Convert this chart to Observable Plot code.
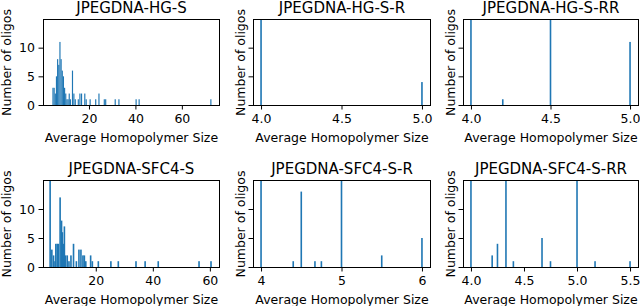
<!DOCTYPE html>
<html><head><meta charset="utf-8">
<script src="https://cdn.jsdelivr.net/npm/d3@7"></script>
<script src="https://cdn.jsdelivr.net/npm/@observablehq/plot@0.6"></script>
<style>
html,body{margin:0;padding:0;background:#fff;}
#fig{position:relative;width:640px;height:306px;overflow:hidden;background:#fff;}
#fig svg{position:absolute;overflow:visible;}
</style></head><body><div id="fig"></div>
<script>
// ---- texts ----
const titles = ["JPEGDNA-HG-S", "JPEGDNA-HG-S-R", "JPEGDNA-HG-S-RR",
                "JPEGDNA-SFC4-S", "JPEGDNA-SFC4-S-R", "JPEGDNA-SFC4-S-RR"];
const xLabel = "Average Homopolymer Size";
const yLabel = "Number of oligos";

// ---- data (histogram bars: average homopolymer size -> number of oligos) ----
const hgS_size  = [4.5,5.0,5.5,6.0,6.5,7.0,7.5,8.0,8.5,9.0,9.5,10.0,10.5,11.0,11.5,12.0,12.9,13.5,14.1,15.4,16.1,16.8,18.2,18.8,20.5,22.9,24.3,26.6,27.2,31.3,32.9,40.3,41.6,72.5];
const hgS_count = [3,3,2,5,8,7,11,8,6,5,3,2,1,1,2,1,6,2,1,1,2,2,2,1,1,1,2,1,1,1,1,1,1,1];

const hgSR_size  = [4.0, 5.0];
const hgSR_count = [40, 4];

const hgSRR_size  = [4.0, 4.2, 4.5, 5.0];
const hgSRR_count = [40, 1, 40, 11];

const sfcS_size  = [4.0,4.6,5.2,5.7,6.0,6.5,6.9,7.5,8.0,8.3,8.7,9.0,9.4,10.0,10.6,11.3,12.2,13.2,14.1,14.8,15.5,16.0,16.5,18.2,18.8,20.9,25.3,27.9,34.1,37.3,41.9,56.2,60.4];
const sfcS_count = [15,3,2,1,4,4,4,12,8,6,4,7,2,2,1,2,4,1,3,3,2,2,1,2,1,1,1,1,1,1,1,1,1];

const sfcSR_size  = [4.0, 4.4, 4.5, 4.67, 4.75, 5.0, 5.5, 6.0];
const sfcSR_count = [40, 1, 13, 1, 1, 40, 2, 5];

const sfcSRR_size  = [4.0, 4.2, 4.25, 4.33, 4.4, 4.67, 4.75, 5.0, 5.17, 5.5];
const sfcSRR_count = [40, 2, 4, 40, 1, 5, 1, 40, 1, 1];

// ---- tick values ----
const yTicks = [0, 5, 10];
const xTicksWide = [20, 40, 60];
const xTicksHalf = [4.0, 4.5, 5.0];
const xTicksUnit = [4, 5, 6];
const xTicksHalfLong = [4.0, 4.5, 5.0, 5.5];

// ---- layout / scale config ----
const panels = [
  {title: titles[0], size: hgS_size, count: hgS_count, bin: 0.5, xDomain: [0.2, 76], xTicks: xTicksWide, fmt: d3.format("d"), yLab: true, col: 0, row: 0},
  {title: titles[1], size: hgSR_size, count: hgSR_count, bin: 0.01, xDomain: [3.95, 5.05], xTicks: xTicksHalf, fmt: d3.format(".1f"), yLab: false, col: 1, row: 0},
  {title: titles[2], size: hgSRR_size, count: hgSRR_count, bin: 0.01, xDomain: [3.95, 5.05], xTicks: xTicksHalf, fmt: d3.format(".1f"), yLab: false, col: 2, row: 0},
  {title: titles[3], size: sfcS_size, count: sfcS_count, bin: 0.565, xDomain: [1.5, 63.2], xTicks: xTicksWide, fmt: d3.format("d"), yLab: true, col: 0, row: 1},
  {title: titles[4], size: sfcSR_size, count: sfcSR_count, bin: 0.02, xDomain: [3.9, 6.1], xTicks: xTicksUnit, fmt: d3.format("d"), yLab: false, col: 1, row: 1},
  {title: titles[5], size: sfcSRR_size, count: sfcSRR_count, bin: 0.015, xDomain: [3.925, 5.575], xTicks: xTicksHalfLong, fmt: d3.format(".1f"), yLab: false, col: 2, row: 1}
];

const cols = [
  {x0: 0, w: 226, ml: 43, mr: 7},
  {x0: 226, w: 214, ml: 27, mr: 10},
  {x0: 440, w: 200, ml: 23, mr: 2}
];
const rows = [
  {y0: 0, h: 153, mt: 19, mb: 48},
  {y0: 153, h: 153, mt: 27, mb: 39}
];

const fig = document.getElementById("fig");
const color = "#1f77b4";

for (const p of panels) {
  const c = cols[p.col], r = rows[p.row];
  const table = p.size.map((s, i) => ({s, n: p.count[i]}));
  const svg = Plot.plot({
    width: c.w, height: r.h,
    marginLeft: c.ml, marginRight: c.mr, marginTop: r.mt, marginBottom: r.mb,
    style: {background: "transparent", fontFamily: "'DejaVu Sans', sans-serif", fontSize: "12.5px", color: "black"},
    x: {domain: p.xDomain, ticks: p.xTicks, tickFormat: p.fmt, tickSize: 4.5, tickPadding: 4,
        label: xLabel, labelAnchor: "center", labelOffset: 36.5, labelArrow: false},
    y: {domain: [0, 15], ticks: yTicks, tickFormat: p.yLab ? d3.format("d") : () => "", tickSize: 4.5, tickPadding: 4,
        label: yLabel, labelAnchor: "center", labelOffset: p.yLab ? 41 : 17, labelArrow: false},
    marks: [
      Plot.rectY(table, {x1: d => d.s - p.bin / 2, x2: d => d.s + p.bin / 2, y: "n", fill: color, clip: true}),
      Plot.frame({stroke: "black"}),
      Plot.text([p.title], {frameAnchor: "top", lineAnchor: "bottom", dy: -7, fontSize: 15, fill: "black", text: d => d})
    ]
  });
  svg.style.left = c.x0 + "px";
  svg.style.top = r.y0 + "px";
  fig.appendChild(svg);
}
</script>
</body></html>
